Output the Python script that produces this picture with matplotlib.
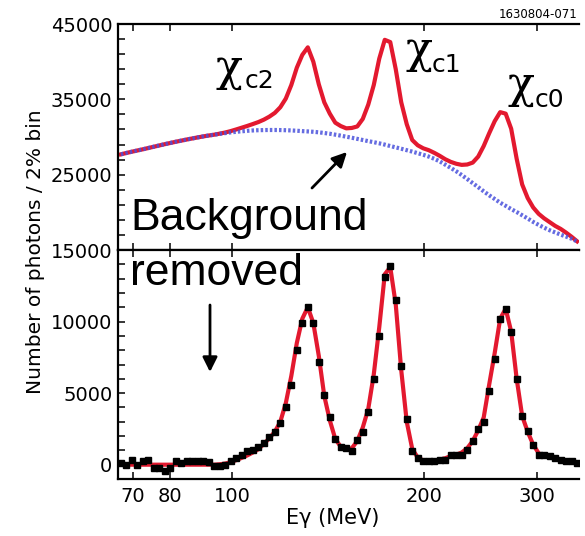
import matplotlib
matplotlib.use('Agg')
import matplotlib.pyplot as plt
from matplotlib.ticker import FixedLocator, NullLocator, NullFormatter

plt.rcParams['font.family'] = ['DejaVu Sans']

# photon energy, 2% bins (MeV)
energy = [67.00, 68.34, 69.71, 71.10, 72.52, 73.97, 75.45, 76.96, 78.50, 80.07,
          81.67, 83.31, 84.97, 86.67, 88.41, 90.17, 91.98, 93.82, 95.69, 97.61,
          99.56, 101.55, 103.58, 105.65, 107.77, 109.92, 112.12, 114.36, 116.65, 118.98,
          121.36, 123.79, 126.27, 128.79, 131.37, 134.00, 136.68, 139.41, 142.20, 145.04,
          147.94, 150.90, 153.92, 157.00, 160.14, 163.34, 166.61, 169.94, 173.34, 176.81,
          180.34, 183.95, 187.63, 191.38, 195.21, 199.11, 203.10, 207.16, 211.30, 215.53,
          219.84, 224.24, 228.72, 233.30, 237.96, 242.72, 247.58, 252.53, 257.58, 262.73,
          267.98, 273.34, 278.81, 284.39, 290.08, 295.88, 301.80, 307.83, 313.99, 320.27,
          326.67, 333.21, 339.87, 346.67]

# upper panel: full fit and background shape
total_fit = [27700, 27880, 28050, 28210, 28370, 28540, 28710, 28880, 29050, 29210,
             29370, 29520, 29670, 29810, 29950, 30080, 30200, 30310, 30450, 30600,
             30790, 31010, 31240, 31470, 31720, 31980, 32300, 32700, 33200, 33950,
             35100, 36900, 39200, 40900, 41900, 40000, 37000, 34600, 33100, 31900,
             31450, 31150, 31200, 31400, 32400, 34300, 36900, 40400, 42900, 42600,
             39000, 34600, 31700, 29600, 28900, 28500, 28250, 27900, 27500, 27050,
             26700, 26450, 26300, 26350, 26600, 27400, 28800, 30500, 32100, 33300,
             33100, 31100, 27100, 23700, 21900, 20650, 19800, 19200, 18700, 18200,
             17800, 17300, 16750, 16150]
background = [27700, 27880, 28050, 28210, 28370, 28540, 28710, 28880, 29050, 29210,
              29370, 29520, 29670, 29810, 29950, 30080, 30200, 30310, 30420, 30520,
              30610, 30690, 30760, 30820, 30870, 30900, 30920, 30930, 30930, 30920,
              30900, 30870, 30830, 30780, 30740, 30690, 30620, 30530, 30430, 30310,
              30180, 30040, 29900, 29750, 29600, 29450, 29310, 29160, 28990, 28800,
              28620, 28440, 28250, 28060, 27850, 27640, 27400, 27110, 26760, 26330,
              25900, 25450, 24950, 24420, 23880, 23340, 22790, 22260, 21770, 21280,
              20860, 20430, 20040, 19610, 19180, 18730, 18330, 17960, 17620, 17330,
              17040, 16780, 16490, 16130]

# lower panel: background subtracted
signal_fit = [0, 0, 0, 0, 0, 0, 0, 0, 0, 0,
              0, 0, 0, 0, 0, 0, 0, 0, 30, 80,
              180, 320, 480, 650, 850, 1080, 1450, 1850, 2300, 3000,
              4300, 6200, 8500, 10200, 11000, 9900, 7600, 4800, 3100, 1800,
              1250, 1050, 1150, 1650, 2600, 3900, 6300, 9600, 13300, 13800,
              11200, 6600, 3000, 1100, 500, 300, 250, 280, 350, 450,
              600, 700, 850, 1150, 1650, 2400, 3300, 5600, 7800, 10200,
              10900, 9300, 6000, 3400, 2300, 1400, 800, 620, 520, 420,
              340, 260, 190, 130]
signal_data = [120, 0, 350, 0, 230, 350, -230, -230, -470, -230,
               230, 120, 230, 230, 230, 230, 160, -120, -120, 0,
               230, 450, 650, 930, 1050, 1250, 1550, 1900, 2300, 2900,
               4000, 5600, 8000, 9900, 11000, 9900, 7200, 4900, 3300, 1800,
               1250, 1150, 950, 1700, 2300, 3700, 6000, 9000, 13100, 13900,
               11500, 6900, 3200, 950, 470, 250, 230, 250, 350, 300,
               700, 700, 700, 1050, 1640, 2460, 2950, 5150, 7400, 10200,
               10900, 9250, 6000, 3400, 2340, 1400, 700, 650, 580, 450,
               350, 230, 230, 120]

xticks = [70, 80, 100, 200, 300]
top_yticks = [15000, 25000, 35000, 45000]
bot_yticks = [0, 5000, 10000]

W, H = 585, 536
red = '#e3192f'


def fx(x):
    return x / W


def fy(y):
    return 1 - y / H


fig = plt.figure(figsize=(W / 100, H / 100), dpi=100)
ax_top = fig.add_axes([fx(118), fy(250), (579 - 118) / W, (250 - 24) / H])
ax_bot = fig.add_axes([fx(118), fy(479), (579 - 118) / W, (479 - 250) / H])

ax_top.plot(energy, total_fit, color=red, lw=3.0, zorder=2, solid_joinstyle='round')
ax_top.plot(energy, background, color='#4a52dc', lw=3.0, linestyle=(0, (0.6, 0.5)),
            zorder=3, alpha=0.85)

ax_bot.plot(energy, signal_fit, color=red, lw=3.0, zorder=2, solid_joinstyle='round')
ax_bot.plot(energy, signal_data, linestyle='none', marker='s', markersize=4.2,
            color='black', zorder=3)

for ax in (ax_top, ax_bot):
    ax.set_xscale('log')
    ax.set_xlim(66.3, 349)
    ax.xaxis.set_major_locator(FixedLocator(xticks))
    ax.xaxis.set_minor_locator(NullLocator())
    ax.spines['right'].set_visible(False)
    for s in ('left', 'top', 'bottom'):
        ax.spines[s].set_linewidth(1.6)
    ax.tick_params(axis='both', which='both', direction='in', top=True, bottom=True,
                   right=False, width=1.1, labelsize=14)
    ax.tick_params(axis='both', which='major', length=5)
    ax.tick_params(axis='y', which='minor', length=5)
    ax.tick_params(axis='y', pad=4)

ax_top.set_ylim(15000, 45000)
ax_top.yaxis.set_major_locator(FixedLocator(top_yticks))
ax_top.yaxis.set_minor_locator(FixedLocator(range(15000, 45001, 2000)))
ax_top.xaxis.set_major_formatter(NullFormatter())

ax_bot.set_ylim(-1000, 15000)
ax_bot.yaxis.set_major_locator(FixedLocator(bot_yticks))
ax_bot.yaxis.set_minor_locator(FixedLocator(range(-1000, 15001, 1000)))
ax_bot.set_xticklabels([str(t) for t in xticks])
ax_bot.tick_params(axis='x', pad=6)

# labels
fig.text(fx(36), fy(252), 'Number of photons / 2% bin', rotation=90,
         ha='center', va='center', fontsize=14.5)
fig.text(fx(333), fy(524), 'E\u03b3 (MeV)', ha='center', va='baseline', fontsize=15)
fig.text(fx(577), fy(18), '1630804-071', ha='right', va='baseline', fontsize=8.5)

big = ['Liberation Sans', 'DejaVu Sans']
fig.text(fx(130), fy(230), 'Background', ha='left', va='baseline', fontsize=32, family=big)
fig.text(fx(130), fy(285), 'removed', ha='left', va='baseline', fontsize=32, family=big)

chi_labels = [('c2', 216, 90, 245, 88), ('c1', 405, 72, 432, 72), ('c0', 507, 107, 535, 107)]
for sub, cx, cy, sx, sy in chi_labels:
    fig.text(fx(cx), fy(cy), '\u03c7', family='DejaVu Serif', fontsize=32,
             ha='left', va='bottom')
    fig.text(fx(sx), fy(sy), sub, ha='left', va='baseline', fontsize=18)

arrow = dict(arrowstyle='-|>', color='black', lw=2, mutation_scale=22, shrinkA=0, shrinkB=0)
ax_top.annotate('', xy=(fx(347), fy(152)), xytext=(fx(312), fy(188)),
                xycoords='figure fraction', textcoords='figure fraction', arrowprops=arrow)
ax_bot.annotate('', xy=(fx(210), fy(372)), xytext=(fx(210), fy(305)),
                xycoords='figure fraction', textcoords='figure fraction', arrowprops=arrow)

fig.savefig('out.png', dpi=100)
